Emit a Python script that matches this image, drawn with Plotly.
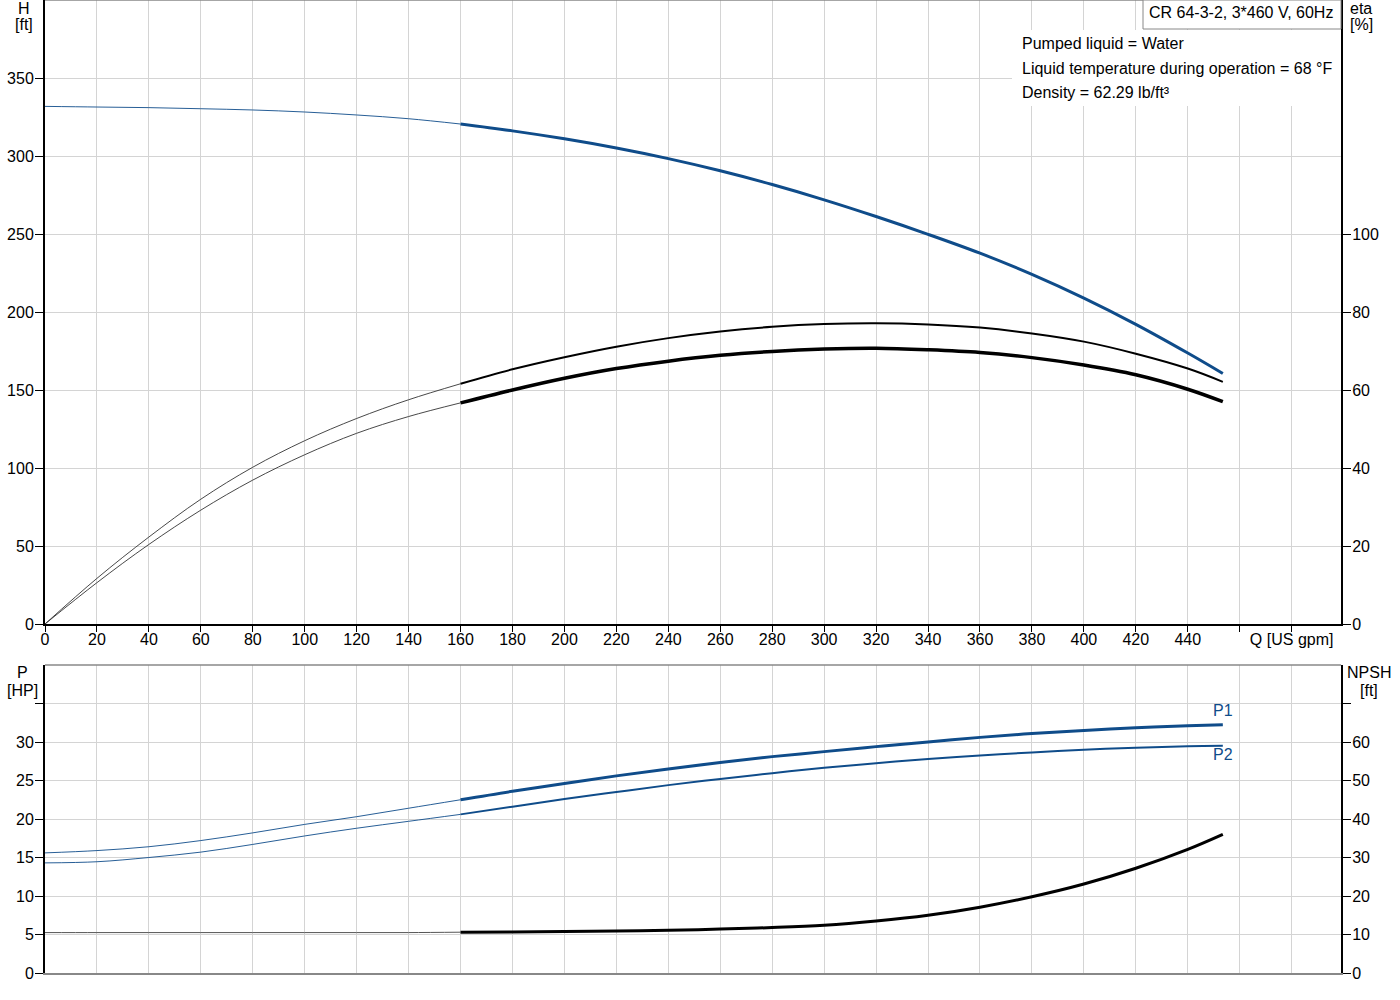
import plotly.graph_objects as go
from plotly.subplots import make_subplots

# --- data ---
Q_LOW = [0, 20, 40, 60, 80, 100, 120, 140, 160]
Q_DUTY = [160, 180, 200, 220, 240, 260, 280, 300, 320, 340, 360, 380, 400, 420, 440, 453.5]

H_LOW = [331.8, 331.4, 331.0, 330.3, 329.5, 328.2, 326.3, 323.9, 320.5]
H_DUTY = [320.5, 316.1, 311.0, 305.1, 298.3, 290.5, 281.7, 271.9, 261.2, 249.8,
          237.7, 224.1, 208.9, 192.1, 173.7, 160.6]

ETA_PUMP_LOW = [0, 11.7, 22.3, 32.0, 40.2, 47.0, 52.7, 57.5, 61.6]
ETA_PUMP_DUTY = [61.6, 65.3, 68.4, 71.1, 73.3, 75.0, 76.2, 76.9, 77.1, 76.8,
                 76.0, 74.5, 72.4, 69.3, 65.5, 62.1]

ETA_TOTAL_LOW = [0, 10.6, 20.4, 29.2, 36.9, 43.4, 48.9, 53.2, 56.7]
ETA_TOTAL_DUTY = [56.7, 60.0, 63.0, 65.5, 67.4, 68.9, 69.9, 70.5, 70.7, 70.3,
                  69.6, 68.3, 66.4, 63.9, 60.2, 57.0]

P1_LOW = [15.6, 15.9, 16.4, 17.2, 18.2, 19.3, 20.3, 21.4, 22.5]
P1_DUTY = [22.5, 23.6, 24.6, 25.6, 26.5, 27.35, 28.1, 28.75, 29.4, 30.0,
           30.6, 31.1, 31.5, 31.85, 32.1, 32.25]

P2_LOW = [14.3, 14.45, 15.0, 15.7, 16.7, 17.8, 18.8, 19.7, 20.6]
P2_DUTY = [20.6, 21.6, 22.6, 23.5, 24.4, 25.2, 25.95, 26.65, 27.25, 27.8,
           28.25, 28.65, 29.0, 29.25, 29.45, 29.5]

NPSH_LOW = [10.5, 10.5, 10.5, 10.5, 10.5, 10.5, 10.5, 10.5, 10.6]
NPSH_DUTY = [10.6, 10.65, 10.75, 10.9, 11.1, 11.4, 11.8, 12.4, 13.5, 15.0,
             17.1, 19.8, 23.1, 27.2, 32.1, 36.0]

Q_TICKS = [0, 20, 40, 60, 80, 100, 120, 140, 160, 180, 200, 220, 240, 260,
           280, 300, 320, 340, 360, 380, 400, 420, 440, 460, 480]
Q_LABELS = [str(v) for v in Q_TICKS[:-2]] + ["", "Q [US gpm]"]
H_TICKS = [0, 50, 100, 150, 200, 250, 300, 350]
ETA_TICKS = [0, 20, 40, 60, 80, 100]
P_TICKS = [0, 5, 10, 15, 20, 25, 30, 35]
P_LABELS = ["0", "5", "10", "15", "20", "25", "30", ""]
NPSH_TICKS = [0, 10, 20, 30, 40, 50, 60, 70]
NPSH_LABELS = ["0", "10", "20", "30", "40", "50", "60", ""]

INFO_LINES = ["Pumped liquid = Water",
              "Liquid temperature during operation = 68 °F",
              "Density = 62.29 lb/ft³"]
TITLE = "CR 64-3-2, 3*460 V, 60Hz"

BLUE = "#0f4c8a"
GRID = "#d4d4d4"
FONT = "Liberation Sans, Arial, sans-serif"

# --- figure ---
W, H = 1400, 1000
ML, MR, MT, MB = 45, 59, 0, 27
PLOT_H = H - MT - MB


def px(x):
    return (x - ML) / (W - ML - MR)


def py(y):
    return 1 - (y - MT) / PLOT_H


fig = make_subplots(rows=2, cols=1, specs=[[{"secondary_y": True}], [{"secondary_y": True}]])


def add_curve(x, y, row, secondary, color, width):
    fig.add_trace(go.Scatter(x=x, y=y, mode="lines", line=dict(color=color, width=width, shape="spline"),
                             hoverinfo="skip", showlegend=False),
                  row=row, col=1, secondary_y=secondary)


# top panel: head + efficiencies
add_curve(Q_LOW, H_LOW, 1, False, BLUE, 0.9)
add_curve(Q_DUTY, H_DUTY, 1, False, BLUE, 3)
add_curve(Q_LOW, ETA_PUMP_LOW, 1, True, "#333333", 0.9)
add_curve(Q_DUTY, ETA_PUMP_DUTY, 1, True, "black", 2)
add_curve(Q_LOW, ETA_TOTAL_LOW, 1, True, "#333333", 0.9)
add_curve(Q_DUTY, ETA_TOTAL_DUTY, 1, True, "black", 3.5)

# bottom panel: power + NPSH
add_curve(Q_LOW, P1_LOW, 2, False, BLUE, 0.9)
add_curve(Q_DUTY, P1_DUTY, 2, False, BLUE, 3)
add_curve(Q_LOW, P2_LOW, 2, False, BLUE, 0.9)
add_curve(Q_DUTY, P2_DUTY, 2, False, BLUE, 2)
add_curve(Q_LOW, NPSH_LOW, 2, True, "#555555", 1)
add_curve(Q_DUTY, NPSH_DUTY, 2, True, "black", 3)

top_dom = [py(624), 1]
bot_dom = [0, py(665)]

tick_font = dict(size=16, color="black", family=FONT)
# secondary_y subplots shrink the x domain by default, so set it back to full width
xcommon = dict(domain=[0, 1], range=[0, 499], tickvals=Q_TICKS, showgrid=True, gridcolor=GRID,
               gridwidth=1, zeroline=False, tickfont=tick_font)
ycommon = dict(zeroline=False, ticks="outside", ticklen=8, tickcolor="black", showline=True,
               linecolor="black", linewidth=2, tickfont=tick_font, ticklabelstandoff=-2)
fig.update_layout(
    xaxis=dict(**xcommon, ticktext=Q_LABELS, ticks="outside", ticklen=6, tickcolor="black",
               showline=True, linecolor="black", linewidth=2, anchor="y", ticklabelstandoff=-6),
    xaxis2=dict(**xcommon, showticklabels=False, showline=True, linecolor="#888888",
                linewidth=2, anchor="y3"),
    yaxis=dict(**ycommon, domain=top_dom, range=[0, 400], tickvals=H_TICKS,
               showgrid=True, gridcolor=GRID),
    yaxis2=dict(**ycommon, range=[0, 160], tickvals=ETA_TICKS, showgrid=False),
    yaxis3=dict(**ycommon, domain=bot_dom, range=[0, 40], tickvals=P_TICKS, ticktext=P_LABELS,
                showgrid=True, gridcolor=GRID),
    yaxis4=dict(**ycommon, range=[0, 80], tickvals=NPSH_TICKS, ticktext=NPSH_LABELS,
                showgrid=False),
    width=W, height=H,
    margin=dict(l=ML, r=MR, t=MT, b=MB, pad=0, autoexpand=False),
    plot_bgcolor="white", paper_bgcolor="white",
    font=dict(family=FONT, size=16, color="black"),
    showlegend=False,
)

# grey top borders of both panels
for yy in (1, bot_dom[1]):
    fig.add_shape(type="line", xref="paper", yref="paper", x0=0, x1=1, y0=yy, y1=yy,
                  line=dict(color="#888888", width=1.5))

# white block behind the liquid info and the title box
fig.add_shape(type="rect", xref="paper", yref="paper", x0=px(1012), x1=1, y0=py(106), y1=py(30),
              line=dict(width=0), fillcolor="white", layer="above")
fig.add_shape(type="rect", xref="paper", yref="paper", x0=px(1143), x1=1, y0=py(29), y1=1,
              line=dict(color="#888888", width=1), fillcolor="white", layer="above")


def label(text, x, y, xanchor="center", color="black"):
    fig.add_annotation(text=text, xref="paper", yref="paper", x=px(x), y=py(y),
                       xanchor=xanchor, yanchor="middle", showarrow=False,
                       font=dict(size=16, color=color, family=FONT))


label(TITLE, 1147, 12, "left")
for i, line in enumerate(INFO_LINES):
    label(line, 1020, 44 + 24 * i, "left")

label("H", 24, 8)
label("[ft]", 24, 25)
label("eta", 1361, 8)
label("[%]", 1361, 25)
label("P", 22, 672)
label("[HP]", 22, 690)
label("NPSH", 1369, 672)
label("[ft]", 1369, 690)

fig.add_annotation(text="P1", x=Q_DUTY[-1], y=P1_DUTY[-1], xref="x2", yref="y3", showarrow=False,
                   yshift=14, font=dict(size=16, color=BLUE, family=FONT))
fig.add_annotation(text="P2", x=Q_DUTY[-1], y=P2_DUTY[-1], xref="x2", yref="y3", showarrow=False,
                   yshift=-9, font=dict(size=16, color=BLUE, family=FONT))

# the page body has a default 8px margin; drop it so the chart sits flush in the window
fig.write_html("out.html", config={"displayModeBar": False},
               post_script="document.body.style.margin='0';")
